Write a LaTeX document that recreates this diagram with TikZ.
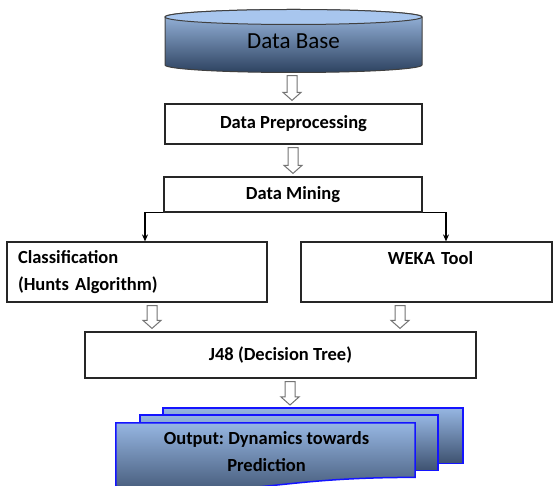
\documentclass[tikz,border=0pt]{standalone}
\usepackage{fontspec}
\setmainfont{Carlito}
\usetikzlibrary{calc,arrows.meta}
\definecolor{dbtop}{RGB}{158,188,228}
\definecolor{dbbot}{RGB}{45,66,96}
\definecolor{dblid}{RGB}{168,198,238}
\definecolor{outtop}{RGB}{150,182,226}
\definecolor{outbot}{RGB}{62,82,112}
\definecolor{outline}{RGB}{20,20,255}
\tikzset{
  box/.style={draw=black!85, line width=1.2pt, fill=white, rectangle, inner sep=0pt,
    font=\bfseries\fontsize{18.5}{27}\selectfont},
  hollow/.style={draw=black!55, line width=1pt, fill=white, line join=miter},
  conn/.style={draw=black, line width=1.1pt, -{Stealth[length=7pt,width=6pt]}},
  pagestyle/.style={draw=outline, line width=1.5pt, top color=outtop, bottom color=outbot},
  pagenode/.style={rectangle, inner sep=0pt, anchor=north},
}
\newcommand\harrow[3]{%
  \draw[hollow] let \p1=(#2.south), \p2=(#3.north) in
   ({#1-5},{\y1-3pt}) -- ({#1+5},{\y1-3pt}) -- ({#1+5},{\y2+11pt}) -- ({#1+9},{\y2+11pt})
   -- (#1,{\y2+3pt}) -- ({#1-9},{\y2+11pt}) -- ({#1-5},{\y2+11pt}) -- cycle;}
\begin{document}
\frenchspacing
\begin{tikzpicture}[x=1pt,y=1pt]
\useasboundingbox (0,0) rectangle (553,486);
% Data Base cylinder
\shade[top color=dbtop, bottom color=dbbot, draw=black!75, line width=1pt]
  (165,469) -- (165,421) arc[start angle=180,end angle=360,x radius=128.5pt,y radius=7.5pt]
  -- (422,469) arc[start angle=0,end angle=180,x radius=128.5pt,y radius=7.5pt] -- cycle;
\filldraw[fill=dblid, draw=black!75, line width=1pt] (293.5,469) ellipse [x radius=128.5pt, y radius=7.5pt];
\node[rectangle, minimum width=257pt, minimum height=63.5pt, inner sep=0pt,
  font=\fontsize{23}{27}\selectfont] (db) at (293.5,445.25) {Data Base};
% boxes
\node[box, minimum width=257pt, minimum height=40pt] (pp) at (293.5,362) {Data Preprocessing};
\node[box, minimum width=258pt, minimum height=35pt] (dm) at (293,291.5) {Data Mining};
\node[box, minimum width=260pt, minimum height=60pt, text width=238pt, align=left, inner xsep=11pt]
  (cls) at (137,214) {Classification\\(Hunts Algorithm)};
\node[box, minimum width=251pt, minimum height=60pt, text width=241pt, align=center, inner xsep=0pt]
  (weka) at (426.5,214) {\hspace*{8pt}WEKA Tool\\\mbox{}};
\node[box, minimum width=391pt, minimum height=46pt] (j48) at (280.5,131) {J48 (Decision Tree)};
% output pages
\node[pagenode, minimum width=300pt, minimum height=55pt] (back) at (313,78) {};
\node[pagenode, minimum width=298pt, minimum height=55pt] (mid) at (289,71) {};
\node[pagenode, minimum width=299pt, minimum height=54pt] (outn) at (265.5,63) {};
\shade[pagestyle] (back.north west) rectangle (back.south east);
\shade[pagestyle] (mid.north west) rectangle (mid.south east);
\shade[pagestyle] (outn.north west) -- (outn.north east) -- (outn.south east)
  .. controls (outn.south) and ($(outn.south)+(0,-20.5)$) .. ($(outn.south west)+(0,-9)$) -- cycle;
\node[align=center, font=\bfseries\fontsize{18.5}{27}\selectfont, inner sep=0pt] at ($(outn.center)+(1,-1)$)
  {Output: Dynamics towards\\Prediction};
% thin connectors
\draw[conn] (dm.south west) -| ($(cls.north)+(8,0)$);
\draw[conn] (dm.south east) -| ($(weka.north)+(19.5,0)$);
% hollow arrows
\harrow{292}{db}{pp}
\harrow{293}{pp}{dm}
\harrow{152}{cls}{j48}
\harrow{400}{weka}{j48}
\harrow{290}{j48}{back}
\end{tikzpicture}
\end{document}
